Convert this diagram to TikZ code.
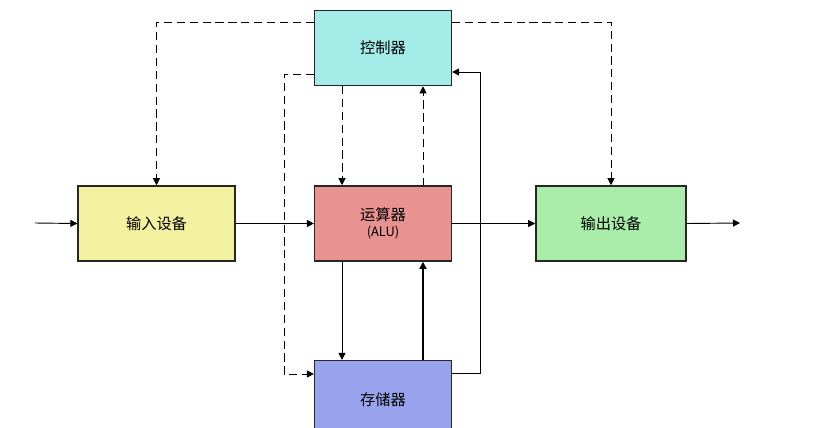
\documentclass[tikz,border=0pt]{standalone}
\usepackage{fontspec}
\newfontfamily\cjk{Noto Sans CJK SC}
\usetikzlibrary{arrows.meta}
\begin{document}
\begin{tikzpicture}[x=0.03cm,y=-0.03cm,
  box/.style={draw=black!85,line width=1.3pt,minimum width=4.1cm,minimum height=2.25cm,inner sep=0pt,font=\cjk\fontsize{13}{16}\selectfont},
  arr/.style={-{Triangle[length=6pt,width=6pt]},line width=0.8pt},
  darr/.style={arr,dash pattern=on 7pt off 4pt}]
\useasboundingbox (0,0) rectangle (835,428);
\clip (0,0) rectangle (835,428);
\fill[white] (0,0) rectangle (835,428);
\node[box,fill={rgb,255:red,164;green,236;blue,232}] (ctl) at (383,48) {控制器};
\node[box,fill={rgb,255:red,232;green,146;blue,146},align=center] (alu) at (383,223.5) {运算器\\[-2pt]{\fontsize{11}{13}\selectfont (ALU)}};
\node[box,fill={rgb,255:red,154;green,164;blue,238},minimum height=2.6cm] (mem) at (383,404) {};
\node[font=\cjk\fontsize{13}{16}\selectfont] at (383,400) {存储器};
\node[box,minimum width=4.7cm,fill={rgb,255:red,242;green,242;blue,160}] (in) at (156.5,223.5) {输入设备};
\node[box,minimum width=4.5cm,fill={rgb,255:red,170;green,236;blue,170}] (out) at (611,223.5) {输出设备};
\coordinate (src) at (35,223);
\coordinate (snk) at (740,223);
\draw[arr] (src) -- (in.west);
\draw[arr] (in.east) -- (alu.west);
\draw[arr] (alu.east) -- (out.west);
\draw[arr] (out.east) -- (snk);
% dashed control lines
\draw[darr] (ctl.west |- 0,22) -| (in.north);
\draw[darr] (ctl.east |- 0,22) -| (out.north);
\draw[darr] (ctl.west |- 0,74) -- (284,74) |- (mem.west |- 0,374);
\draw[darr] (342,86) -- (alu.north -| 342,0);
\draw[darr] (423,186) -- (ctl.south -| 423,0);
% solid data lines
\draw[arr] (alu.south -| 342,0) -- (mem.north -| 342,0);
\draw[arr,line width=1.2pt] (mem.north -| 423,0) -- (alu.south -| 423,0);
\draw[arr] (mem.east |- 0,373) -- (480,373) |- (ctl.east |- 0,72);
\end{tikzpicture}
\end{document}
